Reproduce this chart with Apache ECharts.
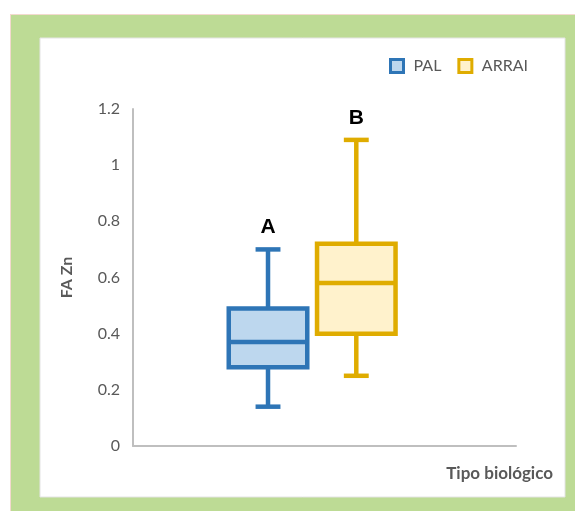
<!DOCTYPE html>
<html>
<head>
<meta charset="utf-8">
<script src="https://cdn.jsdelivr.net/npm/echarts@6/dist/echarts.min.js"></script>
<style>
  html, body { margin: 0; padding: 0; background: #ffffff; }
  #chart { width: 575px; height: 511px; }
</style>
</head>
<body>
<div id="chart"></div>
<script>
// Category on the x axis and the five-number summaries per group
const categories = ['Tipo biológico'];
const seriesNames = ['PAL', 'ARRAI'];
// [min, Q1, median, Q3, max]
const palValues = [0.14, 0.28, 0.37, 0.49, 0.70];
const arraiValues = [0.25, 0.40, 0.58, 0.72, 1.09];
const groupLetters = ['A', 'B'];
const yTicks = [0, 0.2, 0.4, 0.6, 0.8, 1, 1.2];

const colors = {
  PAL: { stroke: '#2E75B6', fill: '#BDD7EE' },
  ARRAI: { stroke: '#DFAC00', fill: '#FFF2CC' }
};

const chart = echarts.init(document.getElementById('chart'), null, { renderer: 'canvas' });

// Builds a box-and-whisker renderer for one group, positioned within the category band
function boxRenderer(offsetFrac, widthFrac, capFrac, stroke, fill, letter) {
  return function (params, api) {
    const cat = api.value(0);
    const vMin = api.value(1), q1 = api.value(2), med = api.value(3), q3 = api.value(4), vMax = api.value(5);
    const band = api.size([1, 0])[0];
    const cx = api.coord([cat, 0])[0] + band * offsetFrac;
    const half = band * widthFrac / 2;
    const capHalf = band * capFrac / 2;
    const y = v => api.coord([cat, v])[1];
    const lw = 4.5;
    const lineStyle = { stroke: stroke, lineWidth: lw, fill: null };
    return {
      type: 'group',
      children: [
        { type: 'line', shape: { x1: cx, y1: y(vMax), x2: cx, y2: y(q3) }, style: lineStyle },
        { type: 'line', shape: { x1: cx, y1: y(q1), x2: cx, y2: y(vMin) }, style: lineStyle },
        { type: 'line', shape: { x1: cx - capHalf, y1: y(vMax), x2: cx + capHalf, y2: y(vMax) }, style: lineStyle },
        { type: 'line', shape: { x1: cx - capHalf, y1: y(vMin), x2: cx + capHalf, y2: y(vMin) }, style: lineStyle },
        { type: 'rect', shape: { x: cx - half, y: y(q3), width: half * 2, height: y(q1) - y(q3) },
          style: { fill: fill, stroke: stroke, lineWidth: lw } },
        { type: 'line', shape: { x1: cx - half, y1: y(med), x2: cx + half, y2: y(med) }, style: lineStyle },
        { type: 'text', x: cx, y: y(vMax) - 22,
          style: { text: letter, fill: '#000000', font: 'bold 21px "Liberation Sans", Arial, sans-serif',
                   align: 'center', verticalAlign: 'middle' } }
      ]
    };
  };
}

const option = {
  animation: false,
  backgroundColor: '#ffffff',
  graphic: [
    { type: 'rect', z: -10, shape: { x: 10, y: 14, width: 565, height: 497 },
      style: { fill: '#F3D9CF' } },
    { type: 'rect', z: -9, shape: { x: 11, y: 15, width: 564, height: 496 },
      style: { fill: '#BDDB95' } },
    { type: 'rect', z: -8, shape: { x: 40, y: 38, width: 525, height: 459 },
      style: { fill: '#ffffff', stroke: '#E4E4E4', lineWidth: 1 } },
    { type: 'text', z: 10, right: 22, top: 465,
      style: { text: 'Tipo biológico', fill: '#595959', font: 'bold 17px Lato, sans-serif' } }
  ],
  legend: {
    left: 384, top: 53,
    itemWidth: 13, itemHeight: 13, itemGap: 16,
    textStyle: { color: '#595959', fontSize: 16, fontFamily: 'Lato', padding: [0, 0, 0, 5] },
    data: seriesNames.map(n => ({
      name: n, icon: 'rect',
      itemStyle: { color: colors[n].fill, borderColor: colors[n].stroke, borderWidth: 3 }
    }))
  },
  grid: { left: 133, top: 109, right: 59, bottom: 65 },
  xAxis: {
    type: 'category',
    data: categories,
    axisLine: { show: true, lineStyle: { color: '#BFBFBF', width: 2 } },
    axisTick: { show: false },
    axisLabel: { show: false },
    splitLine: { show: false }
  },
  yAxis: {
    type: 'value',
    min: yTicks[0], max: yTicks[yTicks.length - 1], interval: 0.2,
    name: 'FA Zn',
    nameLocation: 'middle',
    nameGap: 58,
    nameRotate: 90,
    nameTextStyle: { color: '#595959', fontSize: 16, fontWeight: 'bold', fontFamily: 'Lato' },
    axisLine: { show: true, lineStyle: { color: '#BFBFBF', width: 2 } },
    axisTick: { show: false },
    splitLine: { show: false },
    axisLabel: { color: '#595959', fontSize: 16, fontFamily: 'Lato', margin: 13,
                 formatter: v => String(Math.round(v * 10) / 10) }
  },
  series: [
    {
      name: 'PAL', type: 'custom',
      itemStyle: { color: colors.PAL.fill, borderColor: colors.PAL.stroke },
      renderItem: boxRenderer(-0.1475, 0.205, 0.065, colors.PAL.stroke, colors.PAL.fill, groupLetters[0]),
      encode: { x: 0, y: [1, 2, 3, 4, 5] },
      data: [[0].concat(palValues)]
    },
    {
      name: 'ARRAI', type: 'custom',
      itemStyle: { color: colors.ARRAI.fill, borderColor: colors.ARRAI.stroke },
      renderItem: boxRenderer(0.083, 0.205, 0.065, colors.ARRAI.stroke, colors.ARRAI.fill, groupLetters[1]),
      encode: { x: 0, y: [1, 2, 3, 4, 5] },
      data: [[0].concat(arraiValues)]
    }
  ]
};

chart.setOption(option);
</script>
</body>
</html>
